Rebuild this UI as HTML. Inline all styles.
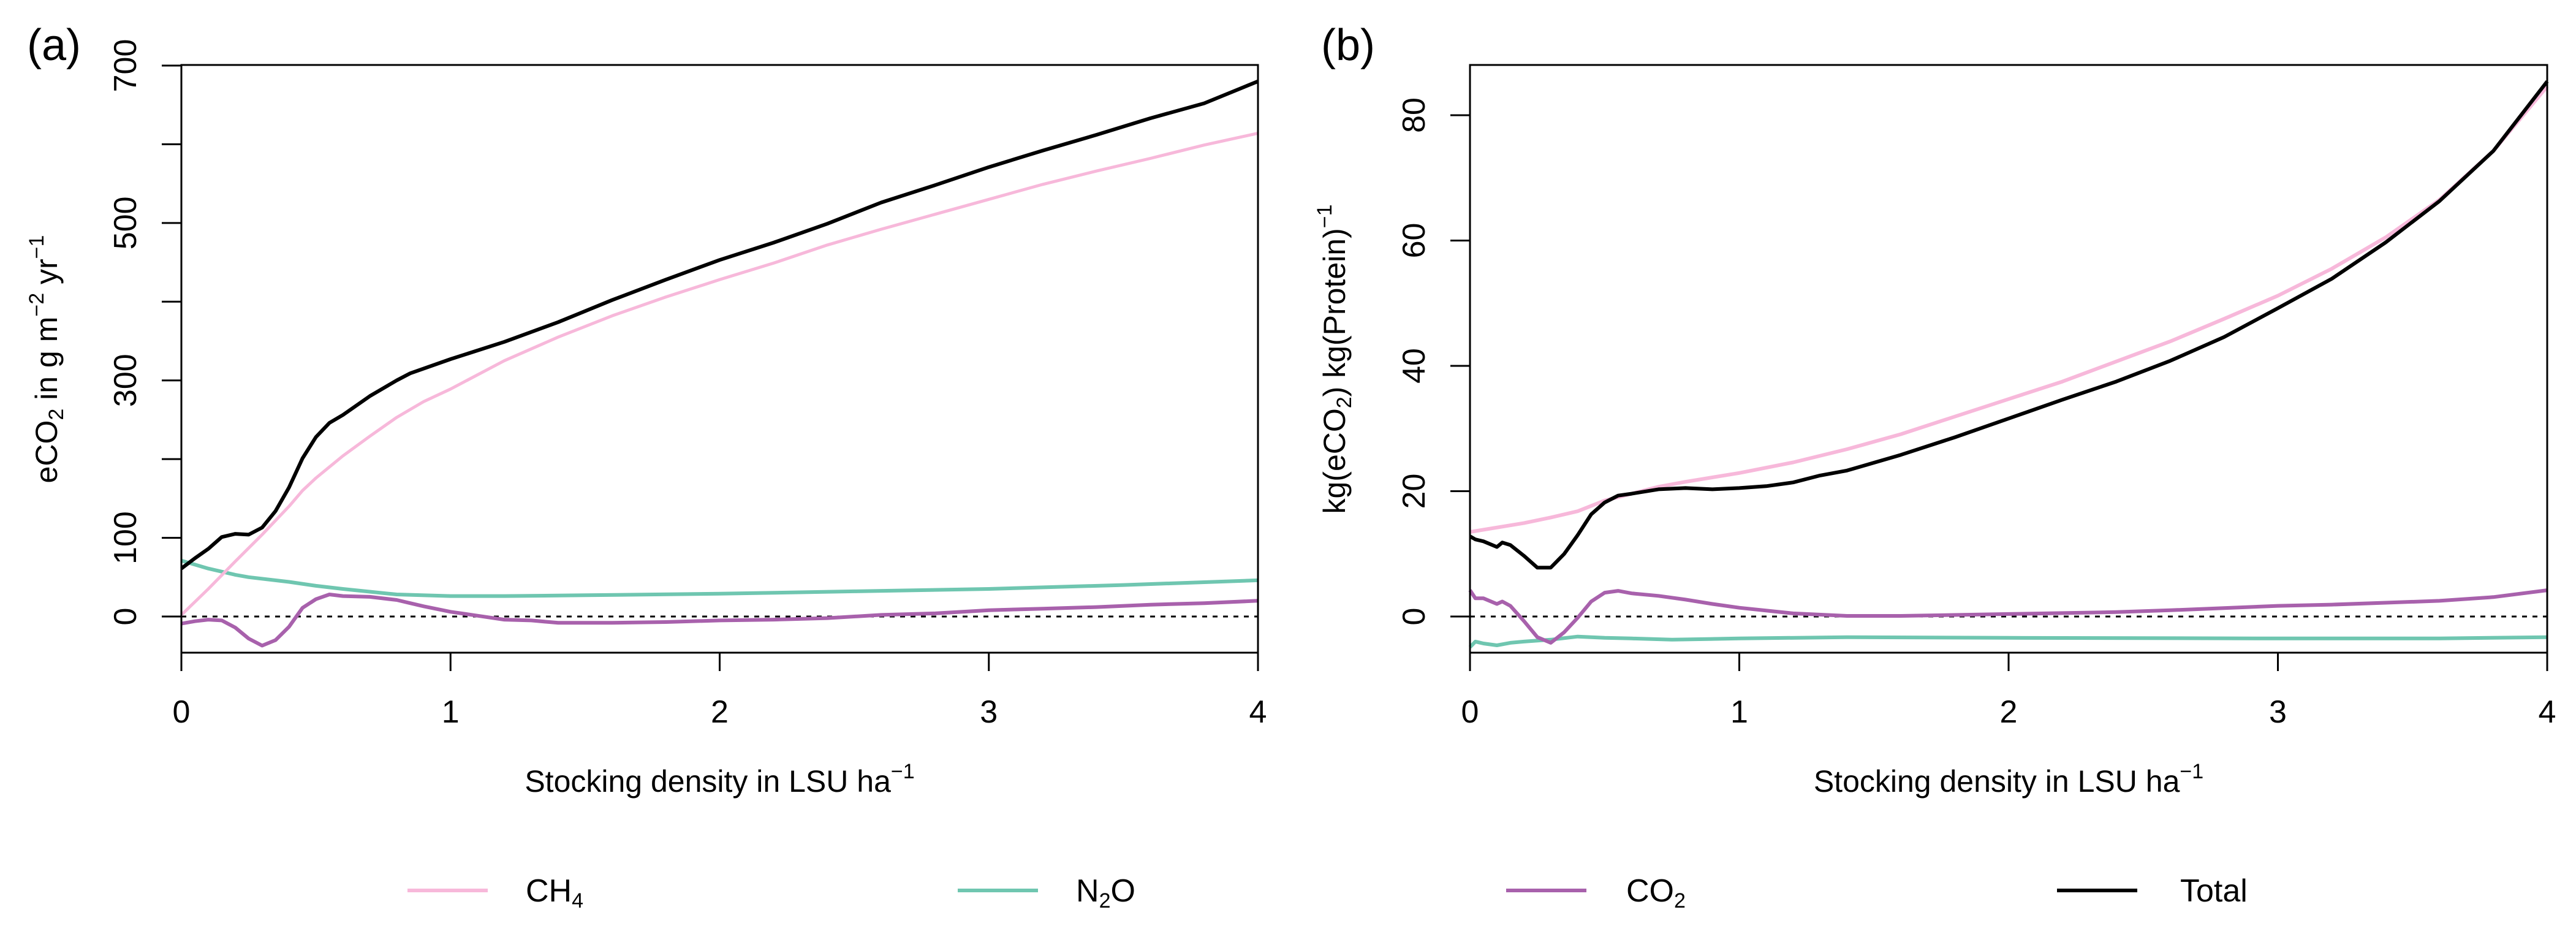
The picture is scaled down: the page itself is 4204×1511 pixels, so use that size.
<!DOCTYPE html>
<html><head><meta charset="utf-8"><style>
html,body{margin:0;padding:0;background:#fff;}
svg{display:block;font-family:"Liberation Sans",Arial,sans-serif;}
</style></head><body>
<svg id="chart" xmlns="http://www.w3.org/2000/svg" width="4204" height="1511" viewBox="0 0 4204 1511">
<rect width="4204" height="1511" fill="#fff"/>
<g id="pa"></g>
<g id="pb"></g>
<g id="legend"></g>
</svg>
<script>
// ---- Panel (a) data ----
const aTotalX = [0,0.05,0.1,0.15,0.2,0.25,0.3,0.35,0.4,0.45,0.5,0.55,0.6,0.7,0.8,0.85,1.0,1.2,1.4,1.6,1.8,2.0,2.2,2.4,2.6,2.8,3.0,3.2,3.4,3.6,3.8,4.0];
const aTotalY = [61,74,86,101,105,104,113,134,164,201,228,246,256,280,300,309,327,349,374,402,428,453,475,499,526,548,571,592,612,633,652,680];
const aCH4X = [0,0.1,0.2,0.3,0.4,0.45,0.5,0.6,0.7,0.8,0.9,1.0,1.2,1.4,1.6,1.8,2.0,2.2,2.4,2.6,2.8,3.0,3.2,3.4,3.6,3.8,4.0];
const aCH4Y = [2,35,70,104,140,160,176,204,229,253,273,289,325,355,382,406,428,449,472,492,511,530,549,566,582,599,614];
const aN2OX = [0,0.1,0.2,0.25,0.4,0.5,0.6,0.8,1.0,1.2,1.5,2.0,2.5,3.0,3.5,4.0];
const aN2OY = [71,61,53,50,44,39,35,28,26,26,27,29,32,35,40,46];
const aCO2X = [0,0.05,0.1,0.15,0.2,0.25,0.3,0.35,0.4,0.45,0.5,0.55,0.6,0.7,0.8,0.85,0.9,1.0,1.1,1.2,1.3,1.4,1.6,1.8,2.0,2.2,2.4,2.6,2.8,3.0,3.2,3.4,3.6,3.8,4.0];
const aCO2Y = [-9,-6,-4,-5,-14,-28,-37,-30,-13,11,22,28,26,25,21,17,13,6,1,-4,-5,-8,-8,-7,-5,-4,-2,2,4,8,10,12,15,17,20];
const aYTicks = [0,100,200,300,400,500,600,700];
const aYLabels = ["0","100","","300","","500","","700"];
// ---- Panel (b) data ----
const bTotalX = [0,0.02,0.05,0.1,0.12,0.15,0.2,0.25,0.3,0.35,0.4,0.45,0.5,0.55,0.6,0.7,0.8,0.9,1.0,1.1,1.2,1.3,1.4,1.6,1.8,2.0,2.2,2.4,2.6,2.8,3.0,3.2,3.4,3.6,3.8,4.0];
const bTotalY = [12.8,12.3,12,11.1,11.8,11.4,9.7,7.8,7.8,10,13,16.3,18.2,19.3,19.6,20.3,20.5,20.3,20.5,20.8,21.4,22.5,23.3,25.8,28.6,31.6,34.6,37.5,40.8,44.6,49.2,53.9,59.7,66.3,74.3,85.4];
const bCH4X = [0,0.2,0.3,0.4,0.5,0.6,0.7,0.8,1.0,1.2,1.4,1.6,1.8,2.0,2.2,2.4,2.6,2.8,3.0,3.2,3.4,3.6,3.8,4.0];
const bCH4Y = [13.5,14.9,15.8,16.8,18.5,19.6,20.7,21.5,22.9,24.6,26.7,29.1,31.9,34.7,37.5,40.7,43.9,47.5,51.2,55.5,60.5,66.5,74.3,84.6];
const bN2OX = [0,0.02,0.05,0.1,0.15,0.2,0.3,0.4,0.5,0.6,0.75,1.0,1.4,2.0,3.0,3.6,4.0];
const bN2OY = [-4.9,-4,-4.3,-4.6,-4.2,-4.0,-3.7,-3.2,-3.4,-3.5,-3.7,-3.5,-3.3,-3.4,-3.5,-3.5,-3.3];
const bCO2X = [0,0.02,0.05,0.1,0.12,0.15,0.2,0.25,0.3,0.35,0.4,0.45,0.5,0.55,0.6,0.7,0.8,0.9,1.0,1.2,1.4,1.6,2.0,2.4,2.6,3.0,3.2,3.4,3.6,3.8,4.0];
const bCO2Y = [4.2,2.9,2.9,2,2.4,1.7,-0.7,-3.3,-4.2,-2.5,-0.2,2.4,3.8,4.1,3.7,3.3,2.7,2.0,1.4,0.5,0.1,0.1,0.4,0.7,1.0,1.7,1.9,2.2,2.5,3.1,4.2];
const bYTicks = [0,20,40,60,80];
const bYLabels = ["0","20","40","60","80"];
const xTicks = [0,1,2,3,4];
const xLabels = ["0","1","2","3","4"];

const NS = "http://www.w3.org/2000/svg";
const COL = {ch4:"#F7B8DA", n2o:"#6FC6B0", co2:"#A861AC", total:"#000"};
function mk(tag, attrs, parent){const e=document.createElementNS(NS,tag);for(const k in attrs)e.setAttribute(k,attrs[k]);parent.appendChild(e);return e;}

function panel(g, L, R, yZeroPx, pxPerUnit, yTicks, yLabels, series, tag, ytitleParts, ytitleX, labelX){
  const T=106, B=1065;
  const sx = v => L + (R-L)*v/4;
  const sy = v => yZeroPx - v*pxPerUnit;
  // dotted zero line
  const z = mk('line',{x1:L,x2:R,y1:sy(0),y2:sy(0),stroke:'#000','stroke-width':3,'stroke-dasharray':'8 9'},g);
  
  
  // series
  series.forEach(s=>{
    const d = s.x.map((xv,i)=>(i?'L':'M')+sx(xv).toFixed(1)+' '+sy(s.y[i]).toFixed(1)).join(' ');
    const p = mk('path',{d:d,fill:'none',stroke:s.c,'stroke-width':s.w,'stroke-linejoin':'round'},g);
    
    
  });
  // box
  const bx = mk('rect',{x:L,y:T,width:R-L,height:B-T,fill:'none',stroke:'#000','stroke-width':3},g);
  
  
  // y ticks
  yTicks.forEach((v,i)=>{
    const t = mk('line',{x1:L-32,x2:L,y1:sy(v),y2:sy(v),stroke:'#000','stroke-width':3},g);
    
    
    if(yLabels[i]){
      const tx = mk('text',{x:0,y:0,'font-size':52,'text-anchor':'middle',transform:`translate(${L-74},${sy(v)}) rotate(-90)`},g);
      tx.textContent = yLabels[i];
      
      
    }
  });
  // x ticks
  xTicks.forEach((v,i)=>{
    const t = mk('line',{x1:sx(v),x2:sx(v),y1:B,y2:B+30,stroke:'#000','stroke-width':3},g);
    
    
    const tx = mk('text',{x:sx(v),y:1179,'font-size':52,'text-anchor':'middle'},g);
    tx.textContent = xLabels[i];
    
    
  });
  // x title
  const xt = mk('text',{x:(L+R)/2,y:1292,'font-size':50,'text-anchor':'middle'},g);
  xt.innerHTML = 'Stocking density in LSU ha<tspan font-size="34" dy="-22">\u22121</tspan>';
  
  
  // y title
  const yt = mk('text',{x:0,y:0,'font-size':50,'text-anchor':'middle',transform:`translate(${ytitleX},586) rotate(-90)`},g);
  yt.innerHTML = ytitleParts;
  
  
  // panel label
  const pl = mk('text',{x:labelX,y:98,'font-size':72},g);
  pl.textContent = tag==='panel-a'?'(a)':'(b)';
  
  
}

panel(document.getElementById('pa'), 296, 2053, 1006, (1006-107)/700, aYTicks, aYLabels, [
  {n:'n2o',x:aN2OX,y:aN2OY,c:COL.n2o,w:6},
  {n:'co2',x:aCO2X,y:aCO2Y,c:COL.co2,w:6},
  {n:'ch4',x:aCH4X,y:aCH4Y,c:COL.ch4,w:5},
  {n:'total',x:aTotalX,y:aTotalY,c:COL.total,w:6}
], 'panel-a', 'eCO<tspan font-size="34" dy="10">2</tspan><tspan dy="-10"> in g m</tspan><tspan font-size="34" dy="-22">\u22122</tspan><tspan dy="22"> yr</tspan><tspan font-size="34" dy="-22">\u22121</tspan>', 93, 44);

panel(document.getElementById('pb'), 2399, 4157, 1006, (1006-188)/80, bYTicks, bYLabels, [
  {n:'n2o',x:bN2OX,y:bN2OY,c:COL.n2o,w:6},
  {n:'co2',x:bCO2X,y:bCO2Y,c:COL.co2,w:6},
  {n:'ch4',x:bCH4X,y:bCH4Y,c:COL.ch4,w:6},
  {n:'total',x:bTotalX,y:bTotalY,c:COL.total,w:6}
], 'panel-b', 'kg(eCO<tspan font-size="34" dy="10">2</tspan><tspan dy="-10">) kg(Protein)</tspan><tspan font-size="34" dy="-22">\u22121</tspan>', 2195, 2156);

// legend
const lg = document.getElementById('legend');
const legItems = [
  {n:'ch4',c:COL.ch4,x1:665,tx:858,html:'CH<tspan font-size="34" dy="10">4</tspan>'},
  {n:'n2o',c:COL.n2o,x1:1563,tx:1756,html:'N<tspan font-size="34" dy="10">2</tspan><tspan dy="-10">O</tspan>'},
  {n:'co2',c:COL.co2,x1:2458,tx:2654,html:'CO<tspan font-size="34" dy="10">2</tspan>'},
  {n:'total',c:COL.total,x1:3357,tx:3558,html:'Total'}
];
legItems.forEach(it=>{
  const g = mk('g',{},lg);
  
  
  const l = mk('line',{x1:it.x1,x2:it.x1+131,y1:1453,y2:1453,stroke:it.c,'stroke-width':6},g);
  
  
  const t = mk('text',{x:it.tx,y:1471,'font-size':52},g);
  t.innerHTML = it.html;
  
  
});
</script>
</body></html>
